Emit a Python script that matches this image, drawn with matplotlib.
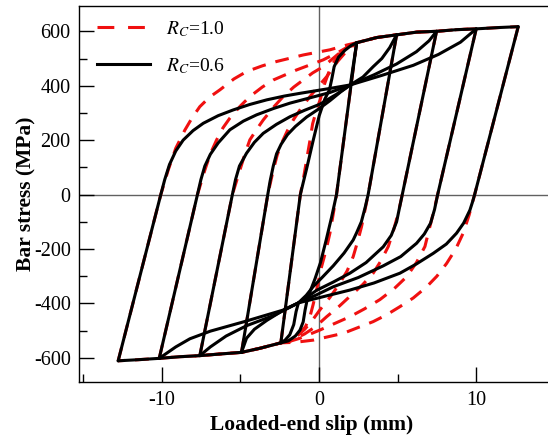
import matplotlib
matplotlib.use("Agg")
import matplotlib.pyplot as plt
from matplotlib.lines import Line2D

plt.rcParams['font.family'] = ['Liberation Serif', 'DejaVu Serif']
plt.rcParams['mathtext.fontset'] = 'stix'
plt.rcParams['axes.unicode_minus'] = False

# --- R_C = 0.6 (black), branches as (slip mm, stress MPa) ---
# reloading branches (negative peak -> positive peak)
blk_up1 = [(-2.42, -545), (-1.18, 0), (-0.98, 48), (-0.78, 95), (-0.38, 195), (0.02, 290),
           (0.37, 350), (0.67, 385), (0.82, 425), (0.97, 470), (1.25, 505), (1.65, 530),
           (2.05, 548), (2.40, 558)]
blk_up2 = [(-4.92, -580), (-3.25, 0), (-3.1, 50), (-2.9, 105), (-2.69, 150), (-2.4, 185),
           (-2.0, 220), (-1.5, 250), (-0.78, 285), (0.0, 315), (0.7, 345), (1.4, 378),
           (2.0, 403), (2.40, 558), (3.67, 577), (4.94, 587)]
blk_up3 = [(-7.57, -592), (-5.5, 0), (-5.3, 55), (-5.05, 105), (-4.6, 152), (-4.1, 192),
           (-3.54, 225), (-2.7, 258), (-1.84, 286), (-0.9, 310), (0.06, 332), (1.1, 368),
           (2.0, 403), (2.8, 432), (3.45, 470), (4.0, 500), (4.5, 540), (4.94, 587),
           (6.21, 597), (7.48, 600)]
blk_up4 = [(-10.15, -602), (-7.72, 0), (-7.5, 55), (-7.25, 105), (-6.9, 148), (-6.4, 190),
           (-5.66, 238), (-4.8, 270), (-3.96, 293), (-2.9, 316), (-1.84, 336), (-0.6, 355),
           (0.7, 375), (1.4, 390), (2.0, 403), (3.5, 440), (4.94, 480), (6.2, 525),
           (7.0, 565), (7.48, 600), (8.75, 606), (10.0, 609)]
blk_up5 = [(-12.76, -611), (-10.05, 0), (-9.8, 55), (-9.5, 110), (-9.1, 160), (-8.63, 200),
           (-8.0, 235), (-7.35, 262), (-6.4, 290), (-5.45, 311), (-4.4, 331), (-3.32, 348),
           (-2.2, 362), (-1.21, 372), (0.7, 390), (2.0, 403), (4.0, 438), (6.0, 475),
           (7.6, 515), (9.0, 560), (10.0, 609), (11.5, 614), (12.67, 617)]
# unloading branches (positive peak -> negative peak)
blk_dn1 = [(2.40, 558), (1.12, 0), (0.80, -85), (0.45, -170), (0.10, -250), (-0.25, -310),
           (-0.55, -355), (-0.75, -388), (-0.88, -425), (-1.0, -468), (-1.2, -498),
           (-1.5, -520), (-1.95, -538), (-2.42, -545)]
blk_dn2 = [(4.94, 587), (3.13, 0), (2.95, -45), (2.7, -100), (2.4, -140), (2.18, -167),
           (1.6, -215), (0.91, -262), (0.2, -305), (-0.36, -338), (-0.8, -370), (-1.3, -398),
           (-1.45, -430), (-1.6, -478), (-1.85, -515), (-2.15, -535), (-2.42, -545),
           (-3.75, -565), (-4.92, -580)]
blk_dn3 = [(7.48, 600), (5.3, 0), (5.1, -55), (4.94, -100), (4.6, -150), (4.09, -192),
           (3.0, -250), (1.97, -289), (0.9, -322), (-0.15, -352), (-0.7, -375), (-1.3, -398),
           (-2.4, -430), (-3.3, -462), (-4.1, -495), (-4.6, -528), (-4.92, -580),
           (-6.29, -586), (-7.57, -592)]
blk_dn4 = [(10.0, 609), (7.55, 0), (7.35, -55), (7.1, -105), (6.7, -145), (6.21, -179),
           (5.2, -228), (4.09, -262), (2.5, -305), (0.91, -339), (-0.2, -370), (-1.3, -398),
           (-2.9, -445), (-4.6, -482), (-5.9, -520), (-6.9, -560), (-7.57, -592),
           (-8.84, -596), (-10.15, -602)]
blk_dn5 = [(12.67, 617), (9.9, 0), (9.75, -30), (9.6, -57), (9.2, -105), (8.75, -142),
           (8.1, -182), (7.27, -216), (6.2, -255), (5.15, -289), (3.5, -325), (1.97, -351),
           (0.3, -375), (-1.3, -398), (-2.3, -425), (-4.8, -468), (-6.9, -502), (-8.2, -530),
           (-9.1, -560), (-10.15, -602), (-11.5, -607), (-12.76, -611)]

# --- R_C = 1.0 (red dashed) ---
red_up1 = [(-2.42, -545), (-1.18, 0), (-0.95, 70), (-0.75, 138), (-0.55, 205), (-0.4, 260),
           (-0.15, 310), (0.1, 352), (0.35, 405), (0.63, 450), (0.95, 487), (1.35, 515),
           (1.7, 532), (2.05, 545), (2.40, 558)]
red_up2 = [(-4.92, -580), (-3.25, 0), (-2.9, 90), (-2.65, 145), (-2.37, 189), (-2.0, 235),
           (-1.63, 274), (-1.1, 320), (-0.57, 360), (0.0, 400), (0.49, 433), (1.2, 490),
           (1.8, 530), (2.40, 558), (3.67, 577), (4.94, 587)]
red_up3 = [(-7.57, -592), (-5.5, 0), (-5.02, 90), (-4.7, 150), (-4.39, 201), (-3.95, 240),
           (-3.54, 274), (-2.9, 320), (-2.27, 360), (-1.6, 395), (-1.0, 421), (-0.4, 447),
           (0.27, 470), (1.2, 515), (1.9, 545), (2.40, 558), (3.67, 577), (4.94, 587),
           (6.21, 597), (7.48, 600)]
red_up4 = [(-10.15, -602), (-7.72, 0), (-7.25, 90), (-6.9, 150), (-6.5, 201), (-6.1, 245),
           (-5.66, 281), (-5.0, 325), (-4.39, 360), (-3.6, 395), (-2.9, 421), (-1.42, 458),
           (-0.5, 478), (0.27, 495), (1.3, 525), (2.0, 548), (2.40, 558), (3.67, 577),
           (4.94, 587), (6.21, 597), (7.48, 600), (8.75, 606), (10.0, 609)]
red_up5 = [(-12.76, -611), (-10.05, 0), (-9.58, 90), (-9.1, 170), (-8.52, 237), (-8.05, 283),
           (-7.57, 323), (-6.95, 358), (-6.29, 385), (-5.4, 425), (-4.6, 452), (-3.6, 473),
           (-2.69, 489), (-1.0, 513), (0.70, 532), (1.8, 550), (2.40, 558), (3.67, 577),
           (4.94, 587), (6.21, 597), (7.48, 600), (8.75, 606), (10.0, 609), (11.5, 614),
           (12.67, 617)]
red_dn1 = [(2.40, 558), (1.12, 0), (0.9, -75), (0.70, -142), (0.45, -205), (0.17, -265),
           (-0.15, -351), (-0.37, -405), (-0.57, -449), (-0.85, -485), (-1.21, -510),
           (-1.6, -528), (-2.05, -541), (-2.42, -545)]
red_dn2 = [(4.94, 587), (3.13, 0), (2.9, -65), (2.71, -118), (2.45, -175), (2.18, -228),
           (1.8, -280), (1.33, -326), (0.7, -378), (0.06, -424), (-0.45, -465), (-0.9, -495),
           (-1.4, -520), (-1.9, -537), (-2.42, -545), (-3.75, -565), (-4.92, -580)]
red_dn3 = [(7.48, 600), (5.3, 0), (5.04, -69), (4.75, -130), (4.41, -191), (3.95, -243),
           (3.45, -289), (2.8, -330), (2.18, -363), (1.3, -410), (0.49, -449), (-0.2, -485),
           (-0.9, -512), (-1.8, -538), (-2.42, -545), (-3.75, -565), (-4.92, -580),
           (-6.29, -586), (-7.57, -592)]
red_dn4 = [(10.0, 609), (7.55, 0), (7.27, -69), (7.0, -130), (6.74, -191), (6.2, -250),
           (5.58, -302), (4.8, -345), (3.88, -386), (2.9, -420), (1.97, -449), (0.06, -498),
           (-1.2, -528), (-2.0, -542), (-2.42, -545), (-3.75, -565), (-4.92, -580),
           (-6.29, -586), (-7.57, -592), (-8.84, -596), (-10.15, -602)]
red_dn5 = [(12.67, 617), (9.9, 0), (9.55, -75), (9.17, -142), (8.7, -200), (8.12, -253),
           (7.5, -300), (6.85, -339), (6.0, -380), (5.15, -412), (4.3, -442), (3.45, -467),
           (1.55, -510), (-0.36, -535), (-1.5, -543), (-2.42, -545), (-3.75, -565),
           (-4.92, -580), (-6.29, -586), (-7.57, -592), (-8.84, -596), (-10.15, -602),
           (-11.5, -607), (-12.76, -611)]

black_branches = [blk_up1, blk_up2, blk_up3, blk_up4, blk_up5,
                  blk_dn1, blk_dn2, blk_dn3, blk_dn4, blk_dn5]
red_branches = [red_up1, red_up2, red_up3, red_up4, red_up5,
                red_dn1, red_dn2, red_dn3, red_dn4, red_dn5]

labels = [r'$R_C$=1.0', r'$R_C$=0.6']
yticks = [-600, -400, -200, 0, 200, 400, 600]
xticks = [-10, 0, 10]

fig = plt.figure(figsize=(5.48, 4.37), dpi=100)
ax = fig.add_axes([79 / 548, (437 - 382.3) / 437, 479.8 / 548, 376.3 / 437])

ax.axhline(0, color='0.38', lw=1.0, zorder=1)
ax.axvline(0, color='0.38', lw=1.0, zorder=1)

for br in red_branches:
    xs, ys = zip(*br)
    ax.plot(xs, ys, color='#f01010', lw=2.2, dashes=(4.5, 3.3), zorder=2)
for br in black_branches:
    xs, ys = zip(*br)
    ax.plot(xs, ys, color='black', lw=2.2, zorder=3,
            solid_joinstyle='round', solid_capstyle='round')

ax.set_xlim(-15.25, 15.25)
ax.set_ylim(-690, 693)
ax.set_xticks(xticks)
ax.set_xticks([-15, -5, 5, 15], minor=True)
ax.set_yticks(yticks)
ax.set_yticks([-500, -300, -100, 100, 300, 500], minor=True)
ax.tick_params(which='both', direction='in', top=False, right=False, width=1.0,
               labelsize=14.5, pad=6)
ax.tick_params(which='major', length=11)
ax.tick_params(which='minor', length=5.5)
for s in ax.spines.values():
    s.set_linewidth(1.0)

ax.set_xlabel('Loaded-end slip (mm)', fontsize=15.5, fontweight='bold')
ax.set_ylabel('Bar stress (MPa)', fontsize=15.5, fontweight='bold')
ax.xaxis.set_label_coords(0.4846, -0.087)
ax.yaxis.set_label_coords(-0.0877, 0.5)

handles = [Line2D([], [], color='#f01010', lw=2.2, dashes=(5.5, 4.5)),
           Line2D([], [], color='black', lw=2.2)]
ax.legend(handles, labels, loc='upper left', bbox_to_anchor=(0.0375, 0.965),
          frameon=False, fontsize=14, borderpad=0, borderaxespad=0,
          handlelength=2.75, handletextpad=0.8, labelspacing=0.88)

fig.savefig('out.png', dpi=100)
